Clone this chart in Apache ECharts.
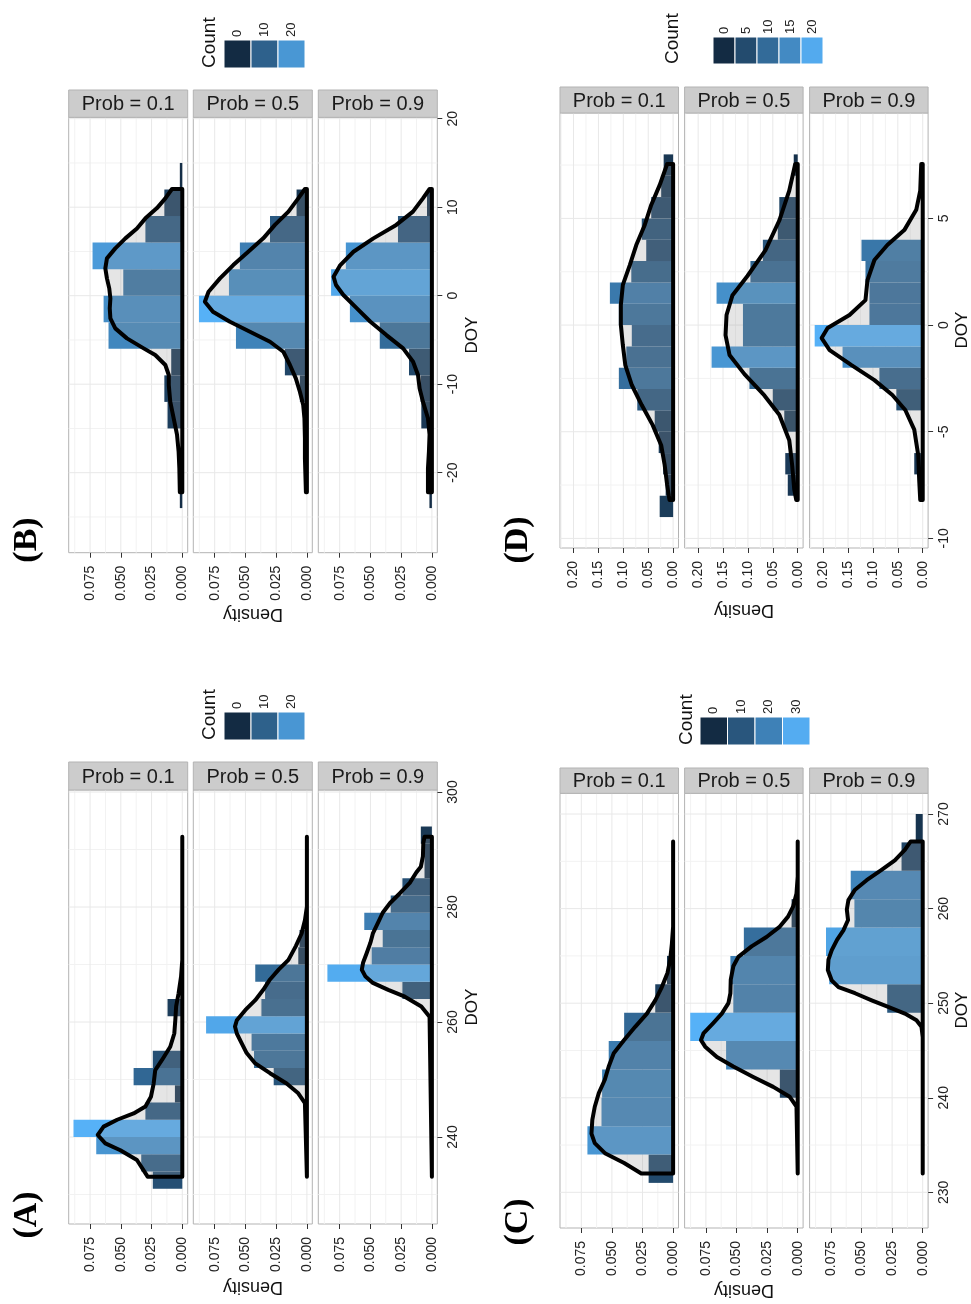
<!DOCTYPE html>
<html><head><meta charset="utf-8">
<script src="https://cdn.jsdelivr.net/npm/echarts@6/dist/echarts.min.js"></script>
<style>html,body{margin:0;padding:0;background:#fff}#c{width:971px;height:1304px}</style>
</head><body><div id="c"></div>
<script>
// ---------------- DATA ----------------
const facetLabels = ['Prob = 0.1', 'Prob = 0.5', 'Prob = 0.9'];
const panelLabels = ['(A)', '(B)', '(C)', '(D)'];

// Panel A (DOY, bin width 3)
const binLowA = [231,234,237,240,243,246,249,252,255,258,261,264,267,270,273,276,279,282,285,288,291];
const densA1 = [0.024,0.0334,0.070,0.0885,0.030,0.006,0.0396,0.024,0,0,0.012,0,0,0,0,0,0,0,0,0,0];
const densA2 = [0,0,0,0,0,0,0.027,0.043,0.045,0.082,0.037,0.034,0.042,0.007,0.006,0,0,0,0,0,0];
const densA3 = [0,0,0,0,0,0,0,0,0,0,0,0.024,0.085,0.049,0.040,0.055,0.0335,0.024,0.006,0.006,0.009];
const curveA1 = [[233.1,0.0282],[236.0,0.0369],[237.7,0.0504],[238.9,0.0626],[240.35,0.0688],[241.8,0.064],[243.0,0.053],[244.1,0.0396],[245.3,0.030],[247.0,0.0255],[249.3,0.0233],[251.65,0.022],[253.4,0.0165],[255.7,0.0098],[258.0,0.0065],[260.3,0.0057],[262.7,0.005],[265.0,0.003],[267.9,0.001],[270.8,0],[292.2,0]];
const curveA2 = [[233.1,0],[245.9,0.0016],[247.6,0.007],[249.3,0.0165],[251.1,0.030],[252.8,0.042],[254.6,0.049],[256.3,0.053],[258.0,0.057],[259.2,0.0585],[260.3,0.057],[262.1,0.050],[263.8,0.042],[265.6,0.0355],[267.4,0.030],[269.1,0.023],[270.8,0.015],[273.2,0.009],[275.4,0.0043],[277.7,0.0016],[280.05,0],[292.2,0]];
const curveA3 = [[233.1,0],[260.9,0.0019],[262.7,0.0086],[264.4,0.022],[265.6,0.0355],[266.8,0.048],[267.9,0.054],[269.1,0.057],[270.3,0.056],[272.0,0.053],[273.8,0.050],[275.4,0.048],[277.2,0.044],[279.0,0.040],[280.7,0.034],[282.4,0.026],[284.2,0.018],[286.0,0.0127],[287.0,0.009],[288.8,0.0073],[291.1,0.007],[292.2,0.006]];

// Panel B (DOY anomaly, bin width 3)
const binLowB = [-24,-21,-18,-15,-12,-9,-6,-3,0,3,6,9,12];
const densB1 = [0.002,0.002,0,0.012,0.0146,0.009,0.060,0.064,0.048,0.073,0.030,0.0146,0.002];
const densB2 = [0,0,0,0,0.0057,0.0179,0.0577,0.0878,0.0634,0.0545,0.030,0.0084,0];
const densB3 = [0.002,0,0,0.0086,0.0092,0.0186,0.0424,0.0667,0.082,0.070,0.0276,0.004,0];
const curveB1 = [[-22.2,0.002],[-19.5,0.0024],[-17.6,0.003],[-15.7,0.0043],[-13.85,0.007],[-11.97,0.0098],[-10.09,0.011],[-8.96,0.011],[-7.83,0.0138],[-6.7,0.022],[-5.95,0.0314],[-4.82,0.045],[-3.69,0.0545],[-2.56,0.0585],[-1.43,0.059],[-0.30,0.0585],[0.83,0.0594],[1.96,0.0613],[3.09,0.0626],[4.22,0.0613],[5.35,0.0545],[6.48,0.0463],[7.6,0.0369],[8.74,0.030],[9.9,0.0206],[11.0,0.0138],[12.06,0.0084]];
const curveB2 = [[-22.2,0.0008],[-18.4,0.0016],[-16.1,0.0016],[-13.85,0.002],[-12.35,0.003],[-10.85,0.0057],[-9.34,0.009],[-7.83,0.0138],[-6.33,0.0192],[-5.2,0.030],[-4.07,0.0463],[-2.94,0.0626],[-1.81,0.0764],[-0.68,0.083],[0.45,0.080],[1.96,0.0707],[3.46,0.0599],[4.97,0.0477],[6.48,0.0355],[8.0,0.026],[9.5,0.015],[11.0,0.007],[12.06,0.0016]];
const curveB3 = [[-22.2,0.0032],[-19.5,0.0032],[-17.6,0.0024],[-15.7,0.0019],[-13.85,0.0032],[-11.97,0.0073],[-10.47,0.010],[-8.96,0.0113],[-7.46,0.0153],[-5.95,0.0234],[-4.45,0.037],[-2.94,0.050],[-1.43,0.061],[0.08,0.072],[1.21,0.078],[2.15,0.080],[3.46,0.0745],[4.97,0.0638],[6.48,0.0476],[8.0,0.029],[9.5,0.0154],[11.0,0.0073],[12.06,0.0019]];

// Panel C (DOY, bin width 3)
const binLowC = [231,234,237,240,243,246,249,252,255,258,261,264,267];
const densC1 = [0.020,0.070,0.0585,0.058,0.0526,0.040,0.0146,0.005,0,0,0,0,0];
const densC2 = [0,0,0,0.0146,0.0585,0.0878,0.0526,0.055,0.044,0.005,0,0,0];
const densC3 = [0,0,0,0,0,0,0.029,0.0764,0.079,0.0558,0.0588,0.0173,0.0057];
const curveC1 = [[232.0,0.026],[233.1,0.040],[234.1,0.0553],[235.2,0.064],[236.2,0.0667],[237.65,0.066],[239.05,0.064],[240.5,0.0607],[241.9,0.0558],[243.3,0.0526],[244.7,0.0485],[246.1,0.040],[247.5,0.031],[248.9,0.0214],[250.3,0.0146],[251.7,0.0092],[253.2,0.0046],[254.6,0.0024],[256.3,0.001],[258.1,0],[267.1,0]];
const curveC2 = [[232.0,0],[239.05,0.001],[240.1,0.0065],[241.15,0.020],[242.2,0.0363],[243.3,0.0526],[244.3,0.066],[245.4,0.0756],[246.1,0.079],[246.8,0.077],[247.9,0.069],[248.9,0.062],[250.0,0.0566],[251.05,0.055],[252.5,0.0547],[253.9,0.0526],[254.9,0.0485],[256.0,0.0377],[257.0,0.0255],[258.1,0.0146],[259.15,0.0079],[260.2,0.0038],[261.6,0.001],[263.4,0],[267.1,0]];
const curveC3 = [[232.0,0],[246.4,0],[247.5,0.001],[248.2,0.0051],[248.9,0.0146],[249.6,0.0282],[250.3,0.0417],[251.05,0.0553],[251.7,0.0688],[252.4,0.0743],[253.5,0.0775],[254.6,0.077],[255.6,0.0743],[256.7,0.070],[257.7,0.0648],[258.8,0.061],[259.9,0.062],[260.9,0.0607],[262.0,0.0553],[263.0,0.0458],[264.1,0.0336],[265.1,0.0228],[266.2,0.0146],[267.1,0.0098]];

// Panel D (DOY anomaly, bin width 1)
const binLowD = [-9,-8,-7,-6,-5,-4,-3,-2,-1,0,1,2,3,4,5,6,7];
const densD1 = [0.027,0.015,0.020,0.029,0.037,0.072,0.109,0.094,0.083,0.109,0.127,0.084,0.054,0.063,0.044,0.024,0.019];
const densD2 = [0,0.020,0.025,0,0.027,0.050,0.097,0.173,0.110,0.110,0.163,0.095,0.070,0.040,0.037,0,0.008];
const densD3 = [0,0,0.017,0,0,0.053,0.087,0.161,0.217,0.107,0.107,0.115,0.123,0,0,0,0];
const curveD1 = [[-8.2,0.0073],[-7.5,0.012],[-6.56,0.017],[-5.63,0.024],[-4.69,0.041],[-3.75,0.063],[-2.81,0.083],[-1.88,0.096],[-0.94,0.101],[0,0.105],[0.94,0.105],[1.88,0.101],[2.81,0.087],[3.75,0.074],[4.69,0.057],[5.63,0.044],[6.56,0.027],[7.55,0.012]];
const curveD2 = [[-8.2,0.003],[-7.7,0.007],[-6.6,0.011],[-5.4,0.017],[-4.2,0.037],[-3.3,0.067],[-2.3,0.107],[-1.4,0.137],[-0.47,0.145],[0.47,0.143],[1.4,0.131],[2.3,0.101],[3.5,0.065],[4.9,0.037],[6.3,0.017],[7.55,0.005]];
const curveD3 = [[-8.2,0.005],[-7.3,0.007],[-6.1,0.009],[-4.9,0.017],[-3.98,0.035],[-3.28,0.061],[-2.58,0.097],[-1.88,0.143],[-1.17,0.187],[-0.61,0.203],[-0.14,0.191],[0.47,0.147],[1.17,0.115],[2.1,0.111],[3.05,0.097],[3.75,0.071],[4.45,0.037],[5.4,0.013],[6.3,0.005],[7.55,0.003]];

// sample sizes (count = density * n * binwidth)
const sampleN = [94, 94, 118, 97];
const binWidths = [3, 3, 3, 1];

// axis ticks
const doyTicksA = [240,260,280,300], doyMinorA = [230,250,270,290];
const doyTicksB = [-20,-10,0,10,20], doyMinorB = [-25,-15,-5,5,15];
const doyTicksC = [230,240,250,260,270], doyMinorC = [235,245,255,265];
const doyTicksD = [-10,-5,0,5], doyMinorD = [-7.5,-2.5,2.5,7.5];
const densTicks = [0,0.025,0.05,0.075], densMinor = [0.0125,0.0375,0.0625,0.0875];
const densTicksD = [0,0.05,0.1,0.15,0.2], densMinorD = [0.025,0.075,0.125,0.175,0.225];
const legendA = [0,10,20], legendB = [0,10,20], legendC = [0,10,20,30], legendD = [0,5,10,15,20];

// ---------------- LAYOUT ----------------
const FONT = '"Liberation Sans", Arial, Helvetica, sans-serif';
const panels = [
  {bins:binLowA, dens:[densA1,densA2,densA3], curves:[curveA1,curveA2,curveA3], doyR:[224.87,300.35], densR:[-0.0044,0.0924],
   doyT:doyTicksA, doyM:doyMinorA, dT:densTicks, dM:densMinor, dec:3, legend:legendA,
   gx:[68.7,193.3,318.3], gw:119, top:790, h:434, stripTop:762,
   leg:{x0:224, w:27, y:712, h:28, cx:210}, dTitle:[253,1287], yTitle:[472,1007], pl:[27,1215]},
  {bins:binLowB, dens:[densB1,densB2,densB3], curves:[curveB1,curveB2,curveB3], doyR:[-29.04,20.16], densR:[-0.0044,0.0924],
   doyT:doyTicksB, doyM:doyMinorB, dT:densTicks, dM:densMinor, dec:3, legend:legendB,
   gx:[68.7,193.3,318.3], gw:119, top:117.3, h:435.4, stripTop:90,
   leg:{x0:224, w:27, y:40, h:28, cx:210}, dTitle:[253,614], yTitle:[472,335], pl:[27,540]},
  {bins:binLowC, dens:[densC1,densC2,densC3], curves:[curveC1,curveC2,curveC3], doyR:[226.23,272.19], densR:[-0.0044,0.0924],
   doyT:doyTicksC, doyM:doyMinorC, dT:densTicks, dM:densMinor, dec:3, legend:legendC,
   gx:[560,684.6,809.6], gw:118.5, top:793.3, h:434.7, stripTop:768,
   leg:{x0:700, w:27.5, y:717, h:28, cx:687}, dTitle:[744,1290], yTitle:[962,1010], pl:[518,1222]},
  {bins:binLowD, dens:[densD1,densD2,densD3], curves:[curveD1,curveD2,curveD3], doyR:[-10.45,9.94], densR:[-0.0108,0.2272],
   doyT:doyTicksD, doyM:doyMinorD, dT:densTicksD, dM:densMinorD, dec:2, legend:legendD,
   gx:[560,684.6,809.6], gw:118.5, top:113, h:435, stripTop:87,
   leg:{x0:713, w:22, y:37, h:27, cx:673}, dTitle:[744,610], yTitle:[962,330], pl:[518,540]}
];

const LOW = [19,43,67], HIGH = [86,177,247];
function fillColor(t){
  t = Math.max(0, Math.min(1, t));
  return 'rgb(' + LOW.map((v,i)=>Math.round(v + (HIGH[i]-v)*t)).join(',') + ')';
}

const option = {animation:false, backgroundColor:'#fff', textStyle:{fontFamily:FONT},
  grid:[], xAxis:[], yAxis:[], series:[], graphic:[]};

panels.forEach((p, pi) => {
  const factor = sampleN[pi] * binWidths[pi];
  let maxCount = 0;
  p.dens.forEach(arr => arr.forEach(d => { maxCount = Math.max(maxCount, d*factor); }));
  for (let f = 0; f < 3; f++) {
    const g = pi*3 + f;
    option.grid.push({left:p.gx[f], top:p.top, width:p.gw, height:p.h, show:true,
      backgroundColor:'#fff', borderColor:'#b3b3b3', borderWidth:1});
    option.xAxis.push({gridIndex:g, type:'value', inverse:true, min:p.densR[0], max:p.densR[1], position:'bottom',
      axisLine:{show:false, onZero:false}, splitLine:{show:false},
      axisTick:{show:true, length:5, lineStyle:{color:'#333', width:1}, customValues:p.dT},
      axisLabel:{show:true, customValues:p.dT, rotate:90, margin:13, fontSize:14, color:'#222', fontFamily:FONT,
        formatter:v => v.toFixed(p.dec)}});
    option.yAxis.push({gridIndex:g, type:'value', position:'right', show:f===2, min:p.doyR[0], max:p.doyR[1],
      axisLine:{show:false, onZero:false}, splitLine:{show:false},
      axisTick:{show:f===2, length:5, lineStyle:{color:'#333', width:1}, customValues:p.doyT},
      axisLabel:{show:f===2, customValues:p.doyT, rotate:90, margin:9, fontSize:14, color:'#222', fontFamily:FONT,
        formatter:v => String(v)}});
    // grid lines
    option.series.push({type:'custom', xAxisIndex:g, yAxisIndex:g, silent:true, z:1,
      data:[[0, p.doyR[0]]],
      renderItem:(params, api) => {
        const ch = [];
        const addV = (vals, col) => vals.forEach(v => {
          const a = api.coord([v, p.doyR[0]]), b = api.coord([v, p.doyR[1]]);
          ch.push({type:'line', shape:{x1:a[0], y1:a[1], x2:b[0], y2:b[1]}, style:{stroke:col, lineWidth:1}});
        });
        const addH = (vals, col) => vals.forEach(v => {
          const a = api.coord([p.densR[0], v]), b = api.coord([p.densR[1], v]);
          ch.push({type:'line', shape:{x1:a[0], y1:a[1], x2:b[0], y2:b[1]}, style:{stroke:col, lineWidth:1}});
        });
        addV(p.dM, '#f2f2f2'); addH(p.doyM, '#f2f2f2');
        addV(p.dT, '#e8e8e8'); addH(p.doyT, '#e8e8e8');
        return {type:'group', children:ch};
      }});
    // histogram bars
    const bw = binWidths[pi];
    option.series.push({type:'custom', xAxisIndex:g, yAxisIndex:g, silent:true, z:2,
      encode:{x:2, y:[0,1]},
      data:p.bins.map((b, i) => [b, b + bw, p.dens[f][i]]),
      renderItem:(params, api) => {
        const d = api.value(2);
        if (!(d > 0)) return null;
        const a = api.coord([0, api.value(0)]), b = api.coord([d, api.value(1)]);
        return {type:'rect', shape:{x:Math.min(a[0],b[0]), y:Math.min(a[1],b[1]),
          width:Math.abs(b[0]-a[0]), height:Math.abs(b[1]-a[1])},
          style:{fill:fillColor(d*factor/maxCount)}};
      }});
    // density curve (filled area + outline)
    const curve = p.curves[f];
    option.series.push({type:'custom', xAxisIndex:g, yAxisIndex:g, silent:true, z:3,
      encode:{x:0, y:1},
      data:curve.map(c => [c[1], c[0]]),
      renderItem:(params, api) => {
        if (params.dataIndex !== 0) return null;
        const pts = curve.map(c => api.coord([c[1], c[0]]));
        pts.push(api.coord([0, curve[curve.length-1][0]]));
        pts.push(api.coord([0, curve[0][0]]));
        return {type:'polygon', shape:{points:pts},
          style:{fill:'rgba(153,153,153,0.25)', stroke:'#000', lineWidth:4, lineJoin:'round'}};
      }});
    // strip
    option.graphic.push({type:'rect', shape:{x:p.gx[f], y:p.stripTop, width:p.gw, height:p.top - p.stripTop},
      style:{fill:'#cccccc', stroke:'#b3b3b3', lineWidth:1}, z:10});
    option.graphic.push({type:'text', x:p.gx[f] + p.gw/2, y:(p.stripTop + p.top)/2 + 1,
      style:{text:facetLabels[f], fontSize:20, fontFamily:FONT, fill:'#1a1a1a', align:'center', verticalAlign:'middle'}, z:11});
  }
  // titles
  option.graphic.push({type:'text', x:p.dTitle[0], y:p.dTitle[1], rotation:Math.PI,
    style:{text:'Density', fontSize:18, fontFamily:FONT, fill:'#111', align:'center', verticalAlign:'middle'}});
  option.graphic.push({type:'text', x:p.yTitle[0], y:p.yTitle[1], rotation:Math.PI/2,
    style:{text:'DOY', fontSize:17, fontFamily:FONT, fill:'#111', align:'center', verticalAlign:'middle'}});
  option.graphic.push({type:'text', x:p.pl[0], y:p.pl[1], rotation:Math.PI/2,
    style:{text:panelLabels[pi], fontSize:34, fontWeight:'bold', fontFamily:'"Liberation Serif", "DejaVu Serif", serif', fill:'#000', align:'center', verticalAlign:'middle'}});
  // legend
  const L = p.leg;
  p.legend.forEach((k, i) => {
    option.graphic.push({type:'rect', shape:{x:L.x0 + i*L.w, y:L.y, width:L.w, height:L.h},
      style:{fill:fillColor(k/maxCount), stroke:'#fff', lineWidth:1}});
    option.graphic.push({type:'text', x:L.x0 + (i+0.5)*L.w, y:L.y - 3, rotation:Math.PI/2,
      style:{text:String(k), fontSize:13, fontFamily:FONT, fill:'#222', align:'left', verticalAlign:'middle'}});
  });
  option.graphic.push({type:'text', x:L.cx, y:L.y + L.h, rotation:Math.PI/2,
    style:{text:'Count', fontSize:19, fontFamily:FONT, fill:'#111', align:'left', verticalAlign:'middle'}});
});

const chart = echarts.init(document.getElementById('c'), null, {renderer:'canvas'});
chart.setOption(option);
</script>
</body></html>
